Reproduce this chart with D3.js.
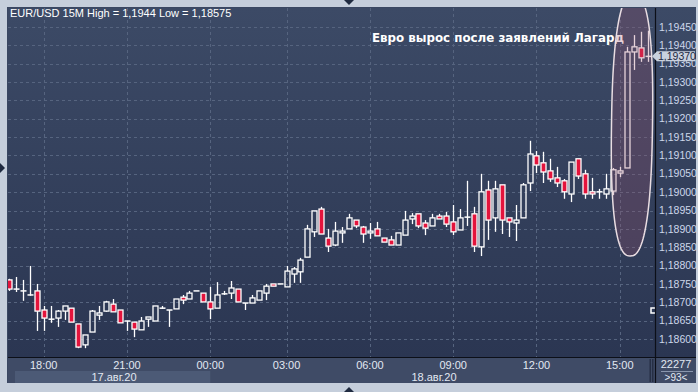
<!DOCTYPE html>
<html>
<head>
<meta charset="utf-8">
<script src="https://cdn.jsdelivr.net/npm/d3@7/dist/d3.min.js"></script>
<style>
  html, body { margin: 0; padding: 0; background: #c5cedb; }
  svg { display: block; font-family: "Liberation Sans", Arial, sans-serif; }
</style>
</head>
<body>
<div id="chart"></div>
<script>
// EUR/USD 15M свечи
const open = [1.18761,1.18736,1.18731,1.18720,1.18731,1.18679,1.18654,1.18657,1.18676,1.18684,
  1.18641,1.18584,1.18619,1.18665,1.18676,1.18695,1.18679,1.18649,1.18646,1.18625,
  1.18654,1.18649,1.18684,1.18679,1.18682,1.18714,1.18709,1.18731,1.18725,1.18701,
  1.18684,1.18723,1.18725,1.18736,1.18698,1.18698,1.18706,1.18725,1.18750,1.18750,
  1.18742,1.18777,1.18783,1.18823,1.18892,1.18954,1.18875,1.18856,1.18889,1.18900,
  1.18924,1.18905,1.18889,1.18900,1.18875,1.18870,1.18856,1.18883,1.18927,1.18941,
  1.18916,1.18908,1.18935,1.18935,1.18919,1.18897,1.18932,1.18941,1.18851,1.19006,
  1.18930,1.19020,1.18930,1.18916,1.18930,1.19025,1.19099,1.19080,1.19058,1.19039,
  1.19031,1.18995,1.19091,1.19050,1.19001,1.19001,1.18995,1.19003,1.19052,1.19066,
  1.19382,1.19393,1.19370];
const high = [1.18764,1.18769,1.18761,1.18799,1.18750,1.18690,1.18690,1.18679,1.18690,1.18684,
  1.18641,1.18611,1.18679,1.18690,1.18704,1.18709,1.18679,1.18649,1.18646,1.18660,
  1.18660,1.18690,1.18690,1.18679,1.18709,1.18720,1.18731,1.18731,1.18725,1.18742,
  1.18755,1.18731,1.18758,1.18736,1.18698,1.18720,1.18731,1.18750,1.18750,1.18750,
  1.18799,1.18796,1.18821,1.18911,1.18949,1.18960,1.18900,1.18919,1.18905,1.18941,
  1.18924,1.18908,1.18916,1.18919,1.18875,1.18881,1.18889,1.18949,1.18943,1.18941,
  1.18924,1.18941,1.18941,1.18946,1.18965,1.18954,1.19031,1.18960,1.19050,1.19031,
  1.19031,1.19020,1.18930,1.18965,1.19025,1.19140,1.19112,1.19110,1.19091,1.19069,
  1.19036,1.19082,1.19091,1.19061,1.19039,1.19009,1.19050,1.19066,1.19069,1.19396,
  1.19428,1.19437,1.19440];
const low = [1.18731,1.18728,1.18704,1.18718,1.18622,1.18622,1.18644,1.18633,1.18652,1.18646,
  1.18575,1.18575,1.18619,1.18652,1.18674,1.18674,1.18644,1.18622,1.18605,1.18625,
  1.18633,1.18649,1.18682,1.18633,1.18682,1.18695,1.18709,1.18731,1.18701,1.18654,
  1.18684,1.18720,1.18709,1.18701,1.18679,1.18698,1.18706,1.18706,1.18744,1.18750,
  1.18742,1.18753,1.18753,1.18823,1.18878,1.18886,1.18837,1.18853,1.18862,1.18900,
  1.18902,1.18862,1.18873,1.18881,1.18864,1.18856,1.18856,1.18883,1.18913,1.18902,
  1.18883,1.18908,1.18927,1.18905,1.18883,1.18897,1.18908,1.18837,1.18826,1.18870,
  1.18892,1.18886,1.18878,1.18867,1.18930,1.19003,1.19052,1.19025,1.19028,1.19014,
  1.18982,1.18973,1.19036,1.18982,1.18982,1.18982,1.18982,1.18992,1.19041,1.19066,
  1.19333,1.19355,1.19355];
const close = [1.18736,1.18736,1.18731,1.18720,1.18676,1.18657,1.18654,1.18676,1.18690,1.18646,
  1.18578,1.18611,1.18676,1.18671,1.18701,1.18674,1.18644,1.18649,1.18627,1.18649,
  1.18660,1.18690,1.18684,1.18679,1.18709,1.18706,1.18725,1.18731,1.18701,1.18682,
  1.18720,1.18723,1.18739,1.18701,1.18698,1.18712,1.18731,1.18744,1.18744,1.18750,
  1.18785,1.18791,1.18815,1.18900,1.18949,1.18886,1.18853,1.18894,1.18894,1.18930,
  1.18908,1.18886,1.18894,1.18881,1.18864,1.18856,1.18889,1.18924,1.18935,1.18908,
  1.18902,1.18930,1.18927,1.18913,1.18892,1.18930,1.18932,1.18853,1.19001,1.18924,
  1.19009,1.18924,1.18919,1.18924,1.19020,1.19104,1.19074,1.19055,1.19036,1.19025,
  1.19001,1.19082,1.19044,1.18995,1.18995,1.19001,1.19009,1.19061,1.19058,1.19382,
  1.19396,1.19366,1.19370];

// подписи времени (индекс свечи -> метка)
const timeIdx = [6, 18, 30, 41, 53, 65, 77, 89];
const timeLabels = ["18:00", "21:00", "00:00", "03:00", "06:00", "09:00", "12:00", "15:00"];
const dayLabels = ["17.авг.20", "18.авг.20"];
const dayStart = [0, 30];
const priceTicks = d3.range(0, 18).map(i => +(1.18600 + i * 0.0005).toFixed(5));
const lastPrice = 1.19370;
const title = "EUR/USD 15M High = 1,1944 Low = 1,18575";
const note = "Евро вырос после заявлений Лагард";

const width = 698, height = 392;
const L = 8, R = 655, T = 8, B = 357;

const svg = d3.select("#chart").append("svg")
  .attr("width", width).attr("height", height);

const defs = svg.append("defs");
const grad = defs.append("linearGradient").attr("id", "bg")
  .attr("x1", 0).attr("y1", 0).attr("x2", 0).attr("y2", 1);
grad.append("stop").attr("offset", "0%").attr("stop-color", "#3c4a66");
grad.append("stop").attr("offset", "100%").attr("stop-color", "#2b3652");
defs.append("clipPath").attr("id", "plotclip")
  .append("rect").attr("x", L).attr("y", T).attr("width", R - L).attr("height", B - T);

// рамка
svg.append("rect").attr("width", width).attr("height", height).attr("fill", "#c5cedb");
svg.append("rect").attr("x", L - 1).attr("y", T - 1).attr("width", 697 - L).attr("height", 384 - T)
  .attr("fill", "#3a4762");
svg.append("rect").attr("x", L).attr("y", T).attr("width", 696 - L).attr("height", B - T)
  .attr("fill", "url(#bg)");
svg.append("rect").attr("x", L).attr("y", B).attr("width", 696 - L).attr("height", 383 - B)
  .attr("fill", "#3f4b66");

const x = d3.scaleLinear().domain([1, 93]).range([9, 647.5]);
const y = d3.scaleLinear().domain([1.18600, 1.19450]).range([339, 27]);

const plot = svg.append("g").attr("clip-path", "url(#plotclip)");

// сетка
plot.append("g").selectAll("line").data(priceTicks).enter().append("line")
  .attr("x1", L).attr("x2", R)
  .attr("y1", d => Math.round(y(d)) + 0.5).attr("y2", d => Math.round(y(d)) + 0.5)
  .attr("stroke", "#56647f").attr("stroke-dasharray", "3,3");
plot.append("g").selectAll("line").data(timeIdx).enter().append("line")
  .attr("x1", d => Math.round(x(d)) + 0.5).attr("x2", d => Math.round(x(d)) + 0.5)
  .attr("y1", T).attr("y2", B)
  .attr("stroke", "#56647f").attr("stroke-dasharray", "3,3");

// подпись
plot.append("text").attr("x", 372).attr("y", 42)
  .attr("fill", "#ffffff").attr("font-family", "DejaVu Sans, sans-serif")
  .attr("font-weight", "bold").attr("font-size", 13)
  .attr("textLength", 252).attr("lengthAdjust", "spacingAndGlyphs")
  .text(note);

// свечи
const candles = open.map((o, i) => ({ i: i + 1, o, h: high[i], l: low[i], c: close[i] }));
const bw = 5;
const cg = plot.append("g").selectAll("g").data(candles).enter().append("g");
cg.each(function (d) {
  const g = d3.select(this);
  const cx = Math.round(x(d.i)) + 0.5;
  const top = y(Math.max(d.o, d.c)), bot = y(Math.min(d.o, d.c));
  g.append("line").attr("x1", cx).attr("x2", cx).attr("y1", y(d.h)).attr("y2", top)
    .attr("stroke", "#fff").attr("stroke-width", 1.3);
  g.append("line").attr("x1", cx).attr("x2", cx).attr("y1", bot).attr("y2", y(d.l))
    .attr("stroke", "#fff").attr("stroke-width", 1.3);
  if (bot - top < 1) {
    g.append("line").attr("x1", cx - bw / 2 - 0.5).attr("x2", cx + bw / 2 + 0.5)
      .attr("y1", (top + bot) / 2).attr("y2", (top + bot) / 2)
      .attr("stroke", "#fff").attr("stroke-width", 1.5);
  } else {
    g.append("rect").attr("x", cx - bw / 2).attr("y", top).attr("width", bw).attr("height", bot - top)
      .attr("fill", d.c < d.o ? "#e3143c" : "none")
      .attr("stroke", "#fff").attr("stroke-width", 1.3);
  }
});

// овал выделения
const n = 2.5, ea = 20.5, eb = 131;
const ovalPts = d3.range(0, 361, 3).map(deg => {
  const t = deg * Math.PI / 180, ct = Math.cos(t), st = Math.sin(t);
  return [ea * Math.sign(ct) * Math.pow(Math.abs(ct), 2 / n), eb * Math.sign(st) * Math.pow(Math.abs(st), 2 / n)];
});
plot.append("path")
  .attr("d", d3.line().curve(d3.curveLinearClosed)(ovalPts))
  .attr("transform", "translate(632,125) rotate(0.8)")
  .attr("fill", "#a0506e").attr("fill-opacity", 0.26)
  .attr("stroke", "#e9dde2").attr("stroke-width", 1.5);

// маленький маркер
plot.append("path").attr("d", "M655,308H651V313H655")
  .attr("fill", "none").attr("stroke", "#fff").attr("stroke-width", 1.5);

// разделители
svg.append("line").attr("x1", R + 0.5).attr("x2", R + 0.5).attr("y1", T).attr("y2", 383)
  .attr("stroke", "#0c0f18").attr("stroke-width", 1.2);
svg.append("line").attr("x1", L).attr("x2", 696).attr("y1", B + 0.5).attr("y2", B + 0.5)
  .attr("stroke", "#0c0f18").attr("stroke-width", 1.2);

// ось цен
const fmt = v => v.toFixed(5).replace(".", ",");
svg.append("g").selectAll("text").data(priceTicks).enter().append("text")
  .attr("x", 659).attr("y", d => y(d)).attr("dy", "0.35em")
  .attr("fill", "#cdd7ea").attr("font-size", 10.5)
  .text(fmt);

// метка текущей цены
const ly = y(lastPrice);
svg.append("path")
  .attr("d", `M652,${ly}L657,${ly - 5}H695V${ly + 5}H657Z`)
  .attr("fill", "#c9d1de");
svg.append("text").attr("x", 658).attr("y", ly).attr("dy", "0.36em")
  .attr("fill", "#1d2842").attr("font-size", 10.5).text(fmt(lastPrice));

// ось времени
svg.append("rect").attr("x", 15).attr("y", 371).attr("width", x(dayStart[1]) - 15).attr("height", 12)
  .attr("fill", "#4c5a76");
svg.append("g").selectAll("text").data(timeIdx).enter().append("text")
  .attr("x", d => x(d)).attr("y", 369).attr("text-anchor", "middle")
  .attr("fill", "#e2e8f2").attr("font-size", 11)
  .text((d, i) => timeLabels[i]);
svg.append("g").selectAll("text").data(dayLabels).enter().append("text")
  .attr("x", (d, i) => i === 0 ? 114 : 434).attr("y", 381).attr("text-anchor", "middle")
  .attr("fill", "#e2e8f2").attr("font-size", 11)
  .text(d => d);

svg.append("rect").attr("x", 649.5).attr("y", 359).attr("width", 1.5).attr("height", 23).attr("fill", "#262f44");
svg.append("rect").attr("x", 652).attr("y", 359).attr("width", 1.5).attr("height", 23).attr("fill", "#262f44");

// правый нижний блок
svg.append("text").attr("x", 676).attr("y", 368).attr("text-anchor", "middle")
  .attr("fill", "#e2e8f2").attr("font-size", 11).text("22277");
svg.append("line").attr("x1", 661).attr("x2", 693).attr("y1", 371.5).attr("y2", 371.5)
  .attr("stroke", "#8a96ad");
svg.append("text").attr("x", 676).attr("y", 381).attr("text-anchor", "middle")
  .attr("fill", "#e2e8f2").attr("font-size", 10).text(">93<");

// заголовок
svg.append("text").attr("x", 10).attr("y", 17)
  .attr("fill", "#ffffff").attr("font-size", 11).text(title);

// стрелки сплиттеров
svg.append("path").attr("d", "M344,0H354L349,5Z").attr("fill", "#1f2a40");
svg.append("path").attr("d", "M344,392H354L349,387Z").attr("fill", "#1f2a40");
svg.append("path").attr("d", "M0,163V173L5,168Z").attr("fill", "#1f2a40");
</script>
</body>
</html>
